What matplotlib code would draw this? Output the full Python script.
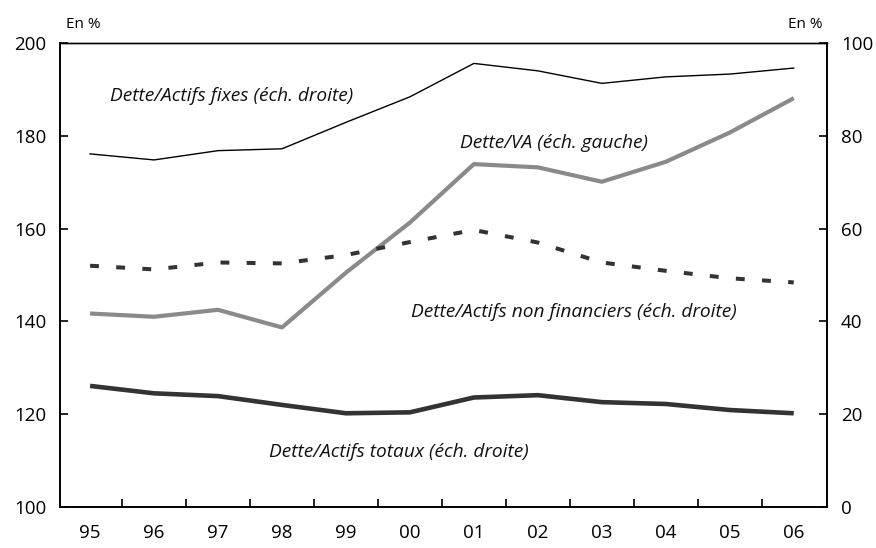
import matplotlib
matplotlib.use("Agg")
import matplotlib.pyplot as plt

annees = ['95', '96', '97', '98', '99', '00', '01', '02', '03', '04', '05', '06']

# echelle gauche
dette_va = [141.7, 141.0, 142.5, 138.7, 150.5, 161.3, 173.9, 173.2, 170.1, 174.4, 180.7, 188.1]

# echelle droite
actifs_fixes = [76.1, 74.8, 76.8, 77.2, 82.9, 88.4, 95.6, 94.0, 91.3, 92.7, 93.3, 94.6]
actifs_non_fin = [52.0, 51.2, 52.7, 52.5, 54.3, 57.1, 59.7, 57.0, 52.7, 50.9, 49.3, 48.4]
actifs_totaux = [26.1, 24.5, 23.9, 22.0, 20.2, 20.4, 23.6, 24.1, 22.6, 22.2, 20.9, 20.2]

plt.rcParams['font.family'] = ['Open Sans', 'DejaVu Sans']

fig = plt.figure(figsize=(8.76, 5.48), dpi=100)
ax = fig.add_axes([60/876, 1 - 507/548, (827-60)/876, (507-43)/548])
ax2 = ax.twinx()

x = list(range(len(annees)))

ax.plot(x, dette_va, color='#8a8a8a', lw=3.0, solid_capstyle='butt', zorder=3)
ax2.plot(x, actifs_fixes, color='black', lw=1.0)
ax2.plot(x, actifs_non_fin, color='#333333', lw=2.9, dashes=(2.2, 4.3))
ax2.plot(x, actifs_totaux, color='#333333', lw=3.3, solid_capstyle='butt')

ax.set_xlim(-0.47, 11.52)
ax.set_ylim(100, 200)
ax2.set_ylim(0, 100)
ax.set_yticks([100, 120, 140, 160, 180, 200])
ax2.set_yticks([0, 20, 40, 60, 80, 100])

ax.set_xticks(x)
ax.set_xticklabels(annees)
ax.set_xticks([i + 0.5 for i in range(len(annees) - 1)], minor=True)
ax.tick_params(axis='x', which='major', length=0, pad=12, labelsize=13.5)
ax.tick_params(axis='x', which='minor', direction='in', length=6, width=1.2)
ax.tick_params(axis='y', direction='in', length=6, width=1.2, pad=10, labelsize=13.5)
ax2.tick_params(axis='y', direction='in', length=6, width=1.2, pad=10, labelsize=13.5)

for a in (ax, ax2):
    for s in a.spines.values():
        s.set_linewidth(1.2)
    a.spines['top'].set_linewidth(1.0)

txt = dict(fontsize=13.8, style='italic', color='#111111')
fig.text(110/876, 1 - 96/548, 'Dette/Actifs fixes (éch. droite)', va='center', ha='left', **txt)
fig.text(460/876, 1 - 143/548, 'Dette/VA (éch. gauche)', va='center', ha='left', **txt)
fig.text(737/876, 1 - 312/548, 'Dette/Actifs non financiers (éch. droite)', va='center', ha='right', **txt)
fig.text(269/876, 1 - 452/548, 'Dette/Actifs totaux (éch. droite)', va='center', ha='left', **txt)

fig.text(66/876, 1 - 24/548, 'En %', fontsize=11, va='center', ha='left')
fig.text(822/876, 1 - 24/548, 'En %', fontsize=11, va='center', ha='right')

fig.savefig('out.png', dpi=100)
